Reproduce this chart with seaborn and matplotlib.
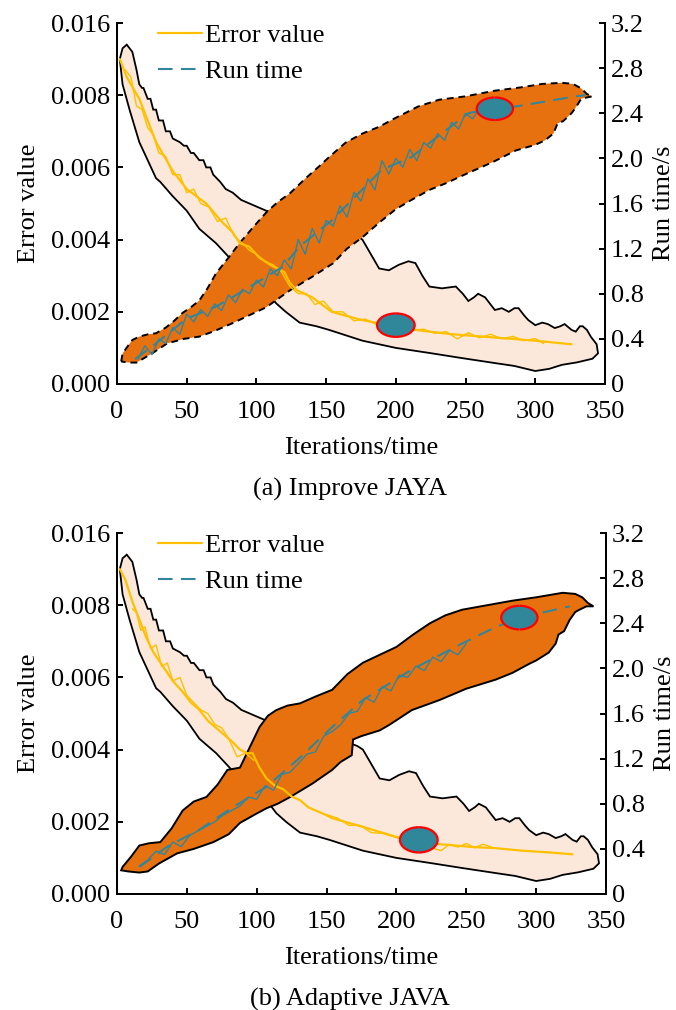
import numpy as np
import matplotlib
matplotlib.use("Agg")
import matplotlib.pyplot as plt
import seaborn as sns
from matplotlib.patches import Polygon, Ellipse, Arc
from matplotlib.lines import Line2D

# ---------------- data ----------------
x_ticks = [0, 50, 100, 150, 200, 250, 300, 350]
err_ticks = [0.000, 0.002, 0.004, 0.006, 0.008, 0.010]
err_tick_labels = ["0.000", "0.002", "0.004", "0.006", "0.008", "0.016"]
rt_ticks = [0, 0.4, 0.8, 1.2, 1.6, 2.0, 2.4, 2.8, 3.2]
rt_tick_labels = ["0", "0.4", "0.8", "1.2", "1.6", "2.0", "2.4", "2.8", "3.2"]
captions = ["(a) Improve JAYA", "(b) Adaptive JAVA"]
series_names = ["Error value", "Run time"]

# error-value band (same outline in both panels)
band_err_x = [2, 4, 7, 11, 14, 16, 18, 19, 22, 24, 26, 28, 30, 33, 35, 38, 40, 45, 48, 50, 53, 55, 59, 62,
              64, 67, 69, 74, 78, 83, 89,
              95, 101, 107, 125, 150, 165, 172, 176, 182, 188, 195, 202, 209, 214, 219, 224, 233, 243,
              248, 252, 256, 259, 264, 268, 271, 276, 281, 285, 288, 292, 295, 300, 305, 309, 314, 318,
              321, 326, 329, 332, 334, 337, 340, 344, 345, 341, 330, 319, 310, 300, 285, 271, 247, 224,
              200, 176, 152, 143, 131, 121, 114, 107, 97, 83, 71, 59, 50, 40, 31, 28, 16, 9, 4, 2]
band_err_y = [0.0090, 0.0093, 0.0094, 0.0092, 0.0087, 0.0083, 0.0082, 0.0082, 0.0079, 0.0079, 0.0076,
              0.0076, 0.0073, 0.0073, 0.0070, 0.0070, 0.0068, 0.0067, 0.0066, 0.0066, 0.0064, 0.0064,
              0.0062, 0.0062, 0.0060, 0.0060, 0.0058, 0.0056, 0.0054, 0.0053,
              0.0051, 0.0050, 0.0049, 0.0048, 0.0047, 0.0044, 0.0042, 0.0041, 0.0040, 0.0036, 0.0032,
              0.00315, 0.0033, 0.0034, 0.00335, 0.0030, 0.0027, 0.00265, 0.0027, 0.0025, 0.0023, 0.0024,
              0.0025, 0.0024, 0.0022, 0.00205, 0.0021, 0.0020, 0.0021, 0.0021, 0.0019, 0.00177, 0.00163,
              0.0017, 0.00166, 0.00155, 0.0016, 0.00166, 0.0015, 0.00145, 0.0016, 0.0016, 0.0015, 0.0013,
              0.0011, 0.00085, 0.0007, 0.0006, 0.00053, 0.00042, 0.00036, 0.0005, 0.00058, 0.00072,
              0.00086, 0.0010, 0.0012, 0.0015, 0.0016, 0.0017, 0.0020, 0.00224, 0.0026, 0.0029, 0.0034,
              0.0039, 0.0043, 0.0048, 0.0052, 0.0056, 0.0057, 0.0067, 0.0076, 0.0083, 0.0090]

# run-time band, panel (a)
a_band_rt_x = [3, 4, 8, 11, 16, 22, 28, 35, 41, 47, 53, 59, 65, 71, 80, 88, 97, 107, 115, 124, 135, 145,
               152, 164, 176, 188, 200, 216, 231, 250, 271, 290, 305, 319, 327, 333, 337, 341,
               333, 329, 326, 320, 316, 313, 307, 300, 286, 270, 250, 236, 224, 211, 200, 188, 176, 165,
               155, 140, 124, 107, 95, 83, 70, 59, 48, 36, 25, 14, 8, 3]
a_band_rt_y = [0.20, 0.27, 0.34, 0.39, 0.42, 0.44, 0.45, 0.50, 0.56, 0.63, 0.68, 0.74, 0.85, 0.98, 1.12,
               1.25, 1.38, 1.52, 1.61, 1.69, 1.82, 1.93, 2.01, 2.14, 2.22, 2.28, 2.36, 2.46, 2.52, 2.55,
               2.60, 2.63, 2.66, 2.67, 2.66, 2.62, 2.57, 2.55,
               2.53, 2.45, 2.40, 2.33, 2.31, 2.22, 2.16, 2.12, 2.07, 1.97, 1.86, 1.78, 1.72, 1.63, 1.55,
               1.43, 1.30, 1.20, 1.07, 0.95, 0.83, 0.68, 0.61, 0.54, 0.47, 0.42, 0.40, 0.36, 0.27, 0.19,
               0.19, 0.20]

# run-time band, panel (b)
b_band_rt_x = [3, 4, 10, 16, 23, 31, 39, 47, 55, 64, 72, 79, 88, 95, 102, 108, 114, 122, 131, 142, 154,
               165, 176, 188, 200, 212, 224, 235, 247, 265, 283, 300, 319, 328, 333, 337, 341,
               336, 331, 328, 324, 320, 316, 314, 309, 300, 295, 283, 271, 250, 231, 211, 195, 188, 175,
               169, 168, 160, 154, 140, 124, 115, 107, 98, 88, 80, 69, 55, 43, 30, 22, 16, 8, 3]
b_band_rt_y = [0.21, 0.24, 0.33, 0.43, 0.45, 0.46, 0.58, 0.74, 0.82, 0.86, 0.97, 1.10, 1.12, 1.30, 1.48,
               1.58, 1.63, 1.67, 1.69, 1.75, 1.81, 1.95, 2.05, 2.12, 2.19, 2.30, 2.40, 2.47, 2.52, 2.56,
               2.60, 2.63, 2.67, 2.66, 2.63, 2.58, 2.55,
               2.55, 2.52, 2.50, 2.43, 2.33, 2.30, 2.22, 2.14, 2.07, 2.04, 1.96, 1.90, 1.82, 1.72, 1.63,
               1.50, 1.45, 1.40, 1.37, 1.23, 1.17, 1.10, 0.98, 0.86, 0.80, 0.76, 0.70, 0.63, 0.53, 0.46,
               0.40, 0.36, 0.27, 0.20, 0.19, 0.20, 0.21]

# error curves
a_err_x = [2, 7, 16, 28, 40, 50, 64, 75, 83, 88, 95, 102, 110, 120, 124, 129, 140, 154, 165, 175, 185,
           195, 205, 220, 240, 260, 280, 300, 326]
a_err_y = [0.0090, 0.0085, 0.0079, 0.0067, 0.0059, 0.0054, 0.0050, 0.0045, 0.0042, 0.0039, 0.0038,
           0.0035, 0.0033, 0.0031, 0.0028, 0.0026, 0.0024, 0.0020, 0.00188, 0.00178, 0.0017, 0.00163,
           0.00155, 0.00147, 0.00138, 0.00132, 0.00126, 0.0012, 0.0011]
a_err_noisy_x = [6, 10, 14, 18, 22, 26, 30, 35, 40, 45, 50, 55, 60, 66, 72, 78, 84, 90, 95, 100, 106, 112,
                 118, 124, 130, 136, 142, 148, 155, 162, 170, 178, 186, 194, 200, 206, 212, 220, 228,
                 236, 244, 252, 260, 268, 276, 284, 292, 300, 306]
a_err_noisy_y = [0.0087, 0.0085, 0.0077, 0.0076, 0.0071, 0.0069, 0.0064, 0.0063, 0.0058, 0.0058, 0.0053,
                 0.0054, 0.0050, 0.0049, 0.0045, 0.0046, 0.0041, 0.0039, 0.0037, 0.0036, 0.0034, 0.0033,
                 0.0031, 0.0027, 0.0025, 0.0025, 0.0022, 0.0023, 0.0020, 0.0020, 0.00175, 0.0018,
                 0.00165, 0.0017, 0.00155, 0.00165, 0.00148, 0.00152, 0.0014, 0.00145, 0.00125, 0.00142,
                 0.00128, 0.00138, 0.00125, 0.00132, 0.0012, 0.00126, 0.00112]

b_err_x = [2, 6, 11, 16, 21, 26, 33, 40, 47, 53, 59, 65, 71, 77, 83, 88, 93, 97, 102, 107, 113, 119, 125,
           131, 137, 143, 149, 154, 165, 176, 188, 200, 212, 224, 240, 255, 271, 290, 310, 326]
b_err_y = [0.0090, 0.0087, 0.0081, 0.0076, 0.0071, 0.0067, 0.0063, 0.0059, 0.0056, 0.0053, 0.0051,
           0.0048, 0.0046, 0.0044, 0.0042, 0.0040, 0.0039, 0.0039, 0.0035, 0.0032, 0.0030, 0.0029,
           0.0027, 0.0026, 0.0024, 0.0023, 0.0022, 0.0021, 0.00198, 0.00186, 0.00172, 0.00158,
           0.00148, 0.0014, 0.00135, 0.0013, 0.00127, 0.0012, 0.00115, 0.0011]
b_err_noisy1_x = [11, 14, 17, 20, 24, 28, 32, 36, 40, 45, 50, 55, 60, 65, 70, 75, 80, 86, 92, 98]
b_err_noisy1_y = [0.0079, 0.0078, 0.0073, 0.0074, 0.0068, 0.0069, 0.0063, 0.0064, 0.0059, 0.0060, 0.0055,
                  0.0053, 0.0051, 0.0050, 0.0047, 0.0046, 0.0043, 0.0038, 0.0039, 0.0037]
b_err_noisy2_x = [150, 158, 166, 174, 182, 190, 232, 238, 244, 250, 256, 262, 268]
b_err_noisy2_y = [0.0022, 0.0021, 0.0019, 0.0019, 0.0017, 0.00168, 0.0012, 0.00138, 0.0013, 0.0014,
                  0.00128, 0.00138, 0.0013]

# run-time curves
a_rt_x = [13, 30, 50, 70, 83, 107, 119, 131, 154, 170, 190, 211, 236, 252, 271, 286, 310, 329, 336]
a_rt_y = [0.22, 0.38, 0.58, 0.68, 0.77, 0.95, 1.04, 1.22, 1.45, 1.65, 1.90, 2.01, 2.25, 2.40, 2.45, 2.46,
          2.51, 2.55, 2.56]
a_rt_noisy_x = [15, 20, 25, 30, 35, 40, 45, 50, 55, 60, 65, 70, 75, 80, 85, 90, 95, 100, 105, 110, 115,
                120, 125, 130, 135, 140, 145, 150, 155, 160, 165, 170, 175, 180, 185, 190, 195, 200, 205,
                210, 215, 220, 225, 230, 235, 240, 245, 250, 255, 260]
a_rt_noisy_y = [0.22, 0.34, 0.26, 0.40, 0.36, 0.50, 0.44, 0.62, 0.55, 0.66, 0.60, 0.71, 0.65, 0.79, 0.72,
                0.84, 0.80, 0.92, 0.86, 1.02, 0.96, 1.10, 1.02, 1.28, 1.15, 1.38, 1.25, 1.45, 1.40, 1.58,
                1.48, 1.70, 1.62, 1.82, 1.72, 1.98, 1.86, 2.00, 1.92, 2.08, 1.98, 2.14, 2.09, 2.22, 2.16,
                2.32, 2.26, 2.40, 2.35, 2.44]

b_rt_x = [16, 36, 59, 83, 107, 131, 154, 176, 211, 247, 270, 288, 310, 324]
b_rt_y = [0.24, 0.42, 0.57, 0.77, 0.95, 1.21, 1.48, 1.72, 1.99, 2.22, 2.36, 2.45, 2.51, 2.55]
b_rt_noisy_x = [16, 22, 28, 34, 40, 46, 52, 58, 64, 70, 76, 82, 88, 94, 100, 106, 112, 118, 124, 130,
                136, 142, 148, 154, 160, 166, 172, 178, 184, 190, 196, 202, 208, 214, 220, 226, 232,
                238, 244, 250]
b_rt_noisy_y = [0.25, 0.30, 0.38, 0.35, 0.46, 0.42, 0.52, 0.56, 0.60, 0.64, 0.70, 0.74, 0.78, 0.86, 0.84,
                0.96, 0.92, 1.06, 1.08, 1.16, 1.24, 1.26, 1.40, 1.44, 1.50, 1.60, 1.62, 1.74, 1.70, 1.84,
                1.80, 1.94, 1.92, 2.02, 1.98, 2.10, 2.06, 2.16, 2.12, 2.22]

# highlight ellipses: (x, value, width in iterations, height in value units)
a_ell_err = (200, 0.00163, 27, 0.00065)
a_ell_rt = (271, 2.44, 26, 0.20)
b_ell_err = (216, 0.00150, 27, 0.00070)
b_ell_rt = (288, 2.45, 26, 0.21)

# ---------------- style ----------------
sns.set_theme(style="ticks")
plt.rcParams['font.family'] = ['Liberation Serif', 'DejaVu Serif']
for k in ('text.color', 'axes.labelcolor', 'xtick.color', 'ytick.color', 'axes.edgecolor'):
    plt.rcParams[k] = 'black'
FS = 19
YELLOW = '#FFC000'
TEAL = '#31869B'
ORANGE = '#E8710F'
PEACH = '#FCE8DA'
ELLC = '#2F8799'
RED = '#FF0000'
DASH = (0, (7, 4))

fig = plt.figure(figsize=(6.76, 10.10), dpi=100)
W, H = 676.0, 1010.0


def add_axes_px(left, top, right, bottom):
    return fig.add_axes([left / W, 1 - bottom / H, (right - left) / W, (bottom - top) / H])


def ellipse(ax, spec):
    cx, cy, w, h = spec
    ax.add_patch(Ellipse((cx, cy), w, h, facecolor=ELLC, edgecolor='none', zorder=6))
    ax.add_patch(Arc((cx, cy), w, h, theta1=-15, theta2=95, color=RED, lw=1.6, zorder=7))
    ax.add_patch(Arc((cx, cy), w, h, theta1=160, theta2=275, color=RED, lw=1.6, zorder=7))


def panel(ax, err_x, err_y, err_noisy, rt_x, rt_y, rt_noisy, band_rt_x, band_rt_y, band_ls,
          ell_err, ell_rt, caption):
    ax2 = ax.twinx()
    ax.set_xlim(0, 350)
    ax.set_ylim(0, 0.010)
    ax2.set_ylim(0, 3.2)

    ax.add_patch(Polygon(np.column_stack([band_err_x, band_err_y]), closed=True,
                         facecolor=PEACH, edgecolor='black', lw=1.3, zorder=1))
    ax.add_patch(Polygon(np.column_stack([band_rt_x, band_rt_y]), closed=True,
                         facecolor=ORANGE, edgecolor='black', lw=1.4, linestyle=band_ls,
                         transform=ax2.transData, zorder=2))

    sns.lineplot(x=err_x, y=err_y, ax=ax, color=YELLOW, lw=1.6, sort=False,
                 estimator=None, legend=False, zorder=3)
    for nx, ny in err_noisy:
        sns.lineplot(x=nx, y=ny, ax=ax, color=YELLOW, lw=1.0, sort=False,
                     estimator=None, legend=False, zorder=3)
    ellipse(ax, ell_err)

    sns.lineplot(x=rt_x, y=rt_y, ax=ax2, color=TEAL, lw=1.5, linestyle=DASH, sort=False,
                 estimator=None, legend=False, zorder=3)
    nx, ny = rt_noisy
    sns.lineplot(x=nx, y=ny, ax=ax2, color=TEAL, lw=1.0, sort=False,
                 estimator=None, legend=False, zorder=3)
    ellipse(ax2, ell_rt)

    ax.set_xticks(x_ticks)
    ax.set_yticks(err_ticks)
    ax.set_yticklabels(err_tick_labels)
    ax2.set_yticks(rt_ticks)
    ax2.set_yticklabels(rt_tick_labels)
    for a in (ax, ax2):
        a.spines['top'].set_visible(False)
        for s in ('left', 'right', 'bottom'):
            a.spines[s].set_linewidth(1.4)
            a.spines[s].set_color('black')
        a.tick_params(direction='in', length=4, width=1.4, labelsize=FS, colors='black')
    ax.tick_params(axis='y', pad=5)
    ax.tick_params(axis='x', pad=12.5)
    ax2.tick_params(axis='y', pad=4)
    ax.set_xlabel('Iterations/time', fontsize=FS, labelpad=10)
    ax.set_ylabel('Error value', fontsize=FS, labelpad=8)
    ax2.set_ylabel('Run time/s', fontsize=FS, labelpad=6.5)
    ax.grid(False)
    ax2.grid(False)

    handles = [Line2D([], [], color=YELLOW, lw=1.6),
               Line2D([], [], color=TEAL, lw=1.5, linestyle=DASH)]
    ax2.legend(handles, series_names, loc='upper left', bbox_to_anchor=(0.084, 0.998),
               frameon=False, fontsize=FS, handlelength=1.67, handletextpad=0.12,
               labelspacing=0.47, borderpad=0, borderaxespad=0)
    ax.text(0.477, -0.31, caption, transform=ax.transAxes, ha='center', va='baseline',
            fontsize=FS)


ax_a = add_axes_px(117, 23, 605, 384)
panel(ax_a, a_err_x, a_err_y, [(a_err_noisy_x, a_err_noisy_y)], a_rt_x, a_rt_y,
      (a_rt_noisy_x, a_rt_noisy_y), a_band_rt_x, a_band_rt_y, (0, (3.5, 2.5)),
      a_ell_err, a_ell_rt, captions[0])

ax_b = add_axes_px(117, 533, 606, 894)
panel(ax_b, b_err_x, b_err_y, [(b_err_noisy1_x, b_err_noisy1_y), (b_err_noisy2_x, b_err_noisy2_y)],
      b_rt_x, b_rt_y, (b_rt_noisy_x, b_rt_noisy_y), b_band_rt_x, b_band_rt_y, 'solid',
      b_ell_err, b_ell_rt, captions[1])

fig.savefig('out.png', dpi=100)
